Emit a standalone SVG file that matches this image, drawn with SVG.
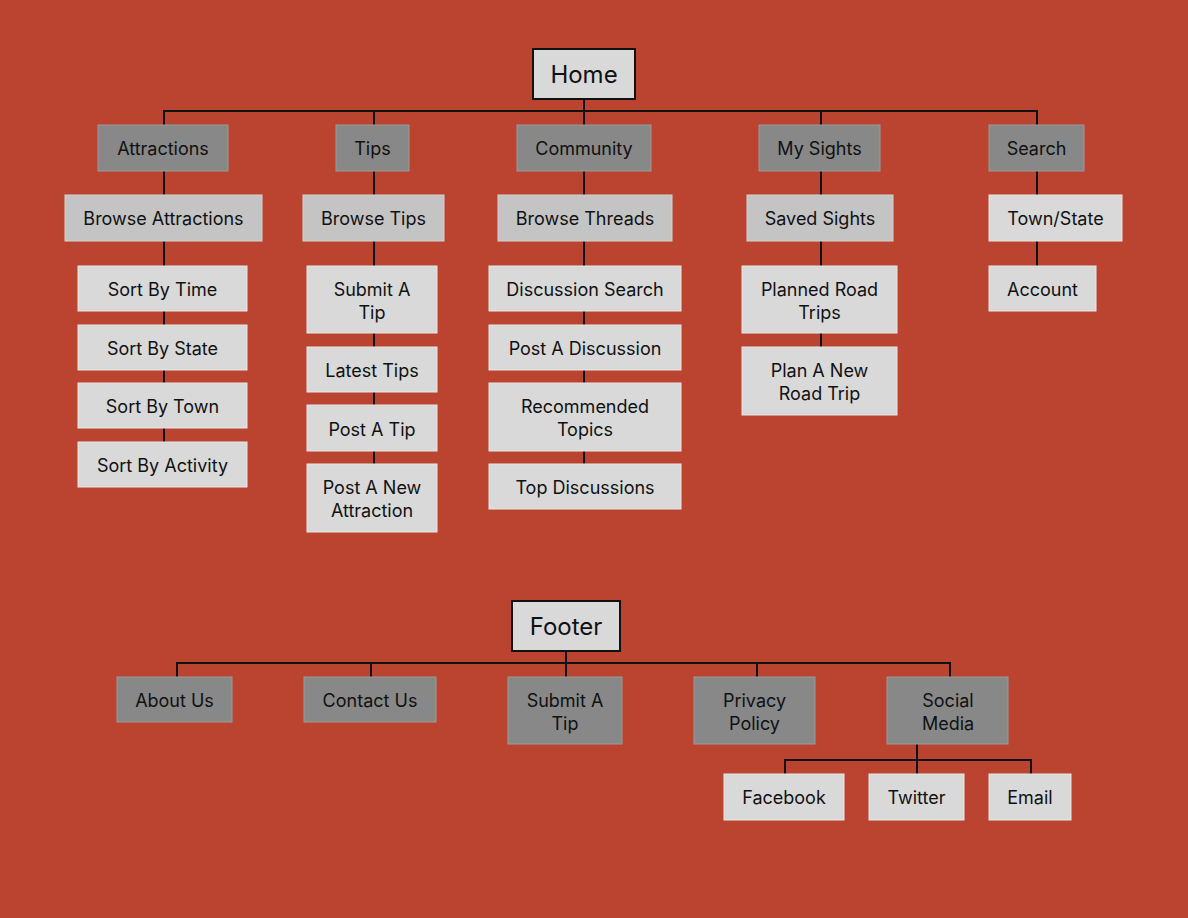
<svg xmlns="http://www.w3.org/2000/svg" width="1188" height="918" viewBox="0 0 1188 918">
<style>
.dk{fill:#888888;stroke:#9a9a9a;stroke-width:1}
.md{fill:#c4c4c4;stroke:#d2d2d2;stroke-width:1}
.lt{fill:#d9d9d9;stroke:#e6e6e6;stroke-width:1}
.rt{fill:#d9d9d9;stroke:#111;stroke-width:2}
text{font-family:Inter,"Noto Sans","Liberation Sans",sans-serif;font-size:18px;fill:#111;text-anchor:middle}
.big{font-size:24px}
.c line,.c path{stroke:#111;stroke-width:2;fill:none}
</style>
<rect width="1188" height="918" fill="#bb4431"/>
<g class="c" id="connectors">
<line x1="584" y1="99" x2="584" y2="110"/>
<path d="M164 125 V111 H1037 V125"/>
<line x1="374" y1="110" x2="374" y2="125"/>
<line x1="584" y1="110" x2="584" y2="125"/>
<line x1="821" y1="110" x2="821" y2="125"/>
<line x1="164" y1="170" x2="164" y2="442"/>
<line x1="374" y1="170" x2="374" y2="464"/>
<line x1="584" y1="170" x2="584" y2="464"/>
<line x1="821" y1="170" x2="821" y2="347"/>
<line x1="1037" y1="170" x2="1037" y2="266"/>
<line x1="566" y1="651" x2="566" y2="677"/>
<path d="M177 677 V663 H950 V677"/>
<line x1="371" y1="663" x2="371" y2="677"/>
<line x1="757" y1="663" x2="757" y2="677"/>
<line x1="917" y1="744" x2="917" y2="774"/>
<path d="M785 774 V760 H1031 V774"/>
</g>
<g id="home"><rect class="rt" x="533" y="49" width="102" height="50"/><text class="big" x="584" y="83">Home</text></g>
<g id="attractions"><rect class="dk" x="98" y="125" width="130" height="46"/><text x="163" y="155">Attractions</text></g>
<g id="tips"><rect class="dk" x="336" y="125" width="73" height="46"/><text x="372.5" y="155">Tips</text></g>
<g id="community"><rect class="dk" x="517" y="125" width="134" height="46"/><text x="584" y="155">Community</text></g>
<g id="mysights"><rect class="dk" x="759" y="125" width="121" height="46"/><text x="819.5" y="155">My Sights</text></g>
<g id="search"><rect class="dk" x="989" y="125" width="95" height="46"/><text x="1036.5" y="155">Search</text></g>
<g id="browse-attractions"><rect class="md" x="65" y="195" width="197" height="46"/><text x="163.5" y="225">Browse Attractions</text></g>
<g id="browse-tips"><rect class="md" x="303" y="195" width="141" height="46"/><text x="373.5" y="225">Browse Tips</text></g>
<g id="browse-threads"><rect class="md" x="498" y="195" width="174" height="46"/><text x="585" y="225">Browse Threads</text></g>
<g id="saved-sights"><rect class="md" x="747" y="195" width="146" height="46"/><text x="820" y="225">Saved Sights</text></g>
<g id="town-state"><rect class="lt" x="989" y="195" width="133" height="46"/><text x="1055.5" y="225">Town/State</text></g>
<g id="sort-time"><rect class="lt" x="78" y="266" width="169" height="45"/><text x="162.5" y="296">Sort By Time</text></g>
<g id="sort-state"><rect class="lt" x="78" y="325" width="169" height="45"/><text x="162.5" y="355">Sort By State</text></g>
<g id="sort-town"><rect class="lt" x="78" y="383" width="169" height="45"/><text x="162.5" y="413">Sort By Town</text></g>
<g id="sort-activity"><rect class="lt" x="78" y="442" width="169" height="45"/><text x="162.5" y="472">Sort By Activity</text></g>
<g id="submit-tip"><rect class="lt" x="307" y="266" width="130" height="67"/><text x="372" y="296">Submit A</text><text x="372" y="318.5">Tip</text></g>
<g id="latest-tips"><rect class="lt" x="307" y="347" width="130" height="45"/><text x="372" y="377">Latest Tips</text></g>
<g id="post-tip"><rect class="lt" x="307" y="405" width="130" height="46"/><text x="372" y="435.5">Post A Tip</text></g>
<g id="post-attraction"><rect class="lt" x="307" y="464" width="130" height="68"/><text x="372" y="494">Post A New</text><text x="372" y="516.5">Attraction</text></g>
<g id="discussion-search"><rect class="lt" x="489" y="266" width="192" height="45"/><text x="585" y="296">Discussion Search</text></g>
<g id="post-discussion"><rect class="lt" x="489" y="325" width="192" height="45"/><text x="585" y="355">Post A Discussion</text></g>
<g id="recommended"><rect class="lt" x="489" y="383" width="192" height="68"/><text x="585" y="413">Recommended</text><text x="585" y="435.5">Topics</text></g>
<g id="top-discussions"><rect class="lt" x="489" y="464" width="192" height="45"/><text x="585" y="494">Top Discussions</text></g>
<g id="planned-trips"><rect class="lt" x="742" y="266" width="155" height="67"/><text x="819.5" y="296">Planned Road</text><text x="819.5" y="318.5">Trips</text></g>
<g id="plan-new"><rect class="lt" x="742" y="347" width="155" height="68"/><text x="819.5" y="377">Plan A New</text><text x="819.5" y="399.5">Road Trip</text></g>
<g id="account"><rect class="lt" x="989" y="266" width="107" height="45"/><text x="1042.5" y="296">Account</text></g>
<g id="footer"><rect class="rt" x="512" y="601" width="108" height="50"/><text class="big" x="566" y="635">Footer</text></g>
<g id="about"><rect class="dk" x="117" y="677" width="115" height="45"/><text x="174.5" y="707">About Us</text></g>
<g id="contact"><rect class="dk" x="304" y="677" width="132" height="45"/><text x="370" y="707">Contact Us</text></g>
<g id="footer-submit"><rect class="dk" x="508" y="677" width="114" height="67"/><text x="565" y="707">Submit A</text><text x="565" y="729.5">Tip</text></g>
<g id="privacy"><rect class="dk" x="694" y="677" width="121" height="67"/><text x="754.5" y="707">Privacy</text><text x="754.5" y="729.5">Policy</text></g>
<g id="social"><rect class="dk" x="887" y="677" width="121" height="67"/><text x="948" y="707">Social</text><text x="948" y="729.5">Media</text></g>
<g id="facebook"><rect class="lt" x="724" y="774" width="120" height="46"/><text x="784" y="804">Facebook</text></g>
<g id="twitter"><rect class="lt" x="869" y="774" width="95" height="46"/><text x="916.5" y="804">Twitter</text></g>
<g id="email"><rect class="lt" x="989" y="774" width="82" height="46"/><text x="1030" y="804">Email</text></g>
</svg>
